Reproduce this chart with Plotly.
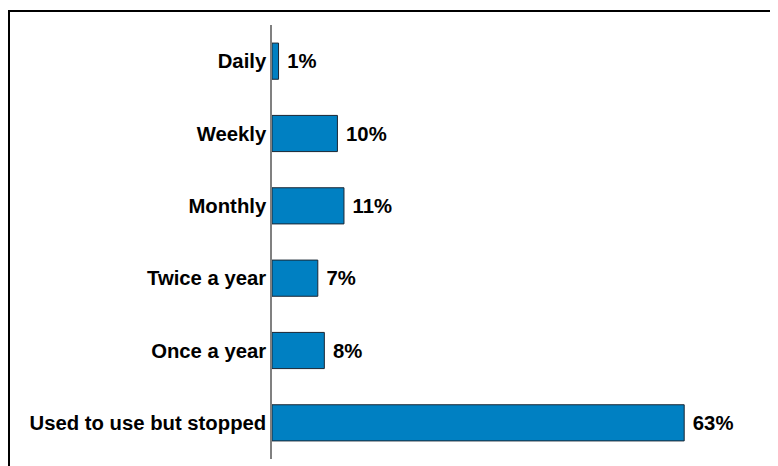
import plotly.graph_objects as go

categories = ["Daily", "Weekly", "Monthly", "Twice a year", "Once a year", "Used to use but stopped"]
values = [1, 10, 11, 7, 8, 63]
labels = [" 1%", " 10%", " 11%", " 7%", " 8%", " 63%"]

# page body has an 8px margin, so the figure is sized to fit the window
W, H = 770, 458
ml, mr, mt, mb = 264, 48, 17, 7
pw = W - ml - mr
ph = H - mt - mb

def px_x(p):
    return (p - ml) / pw

def px_y(p):
    return 1 - (p - mt) / ph

FAM = "Liberation Sans, Arial, sans-serif"

fig = go.Figure(go.Bar(
    y=categories, x=values, orientation="h",
    text=labels, textposition="outside", cliponaxis=False,
    textfont=dict(family=FAM, size=20.3, color="black", weight="bold"),
    marker=dict(color="#0080C2", line=dict(color="#1a2633", width=1)),
    width=0.5,
))

fig.update_layout(
    width=W, height=H,
    margin=dict(l=ml, r=mr, t=mt, b=mb, pad=0),
    paper_bgcolor="white", plot_bgcolor="white",
    showlegend=False,
    xaxis=dict(range=[0, 70], visible=False, fixedrange=True),
    yaxis=dict(autorange="reversed", showgrid=False, showline=True, linecolor="#808080", linewidth=1.5,
               ticks="", ticklabelstandoff=0,
               tickfont=dict(family=FAM, size=20.3, color="black", weight="bold")),
    shapes=[dict(type="rect", xref="paper", yref="paper",
                 x0=px_x(1), x1=px_x(800), y0=px_y(500), y1=px_y(3),
                 line=dict(color="black", width=2), fillcolor="rgba(0,0,0,0)", layer="above")],
)

fig.write_html("out.html")
